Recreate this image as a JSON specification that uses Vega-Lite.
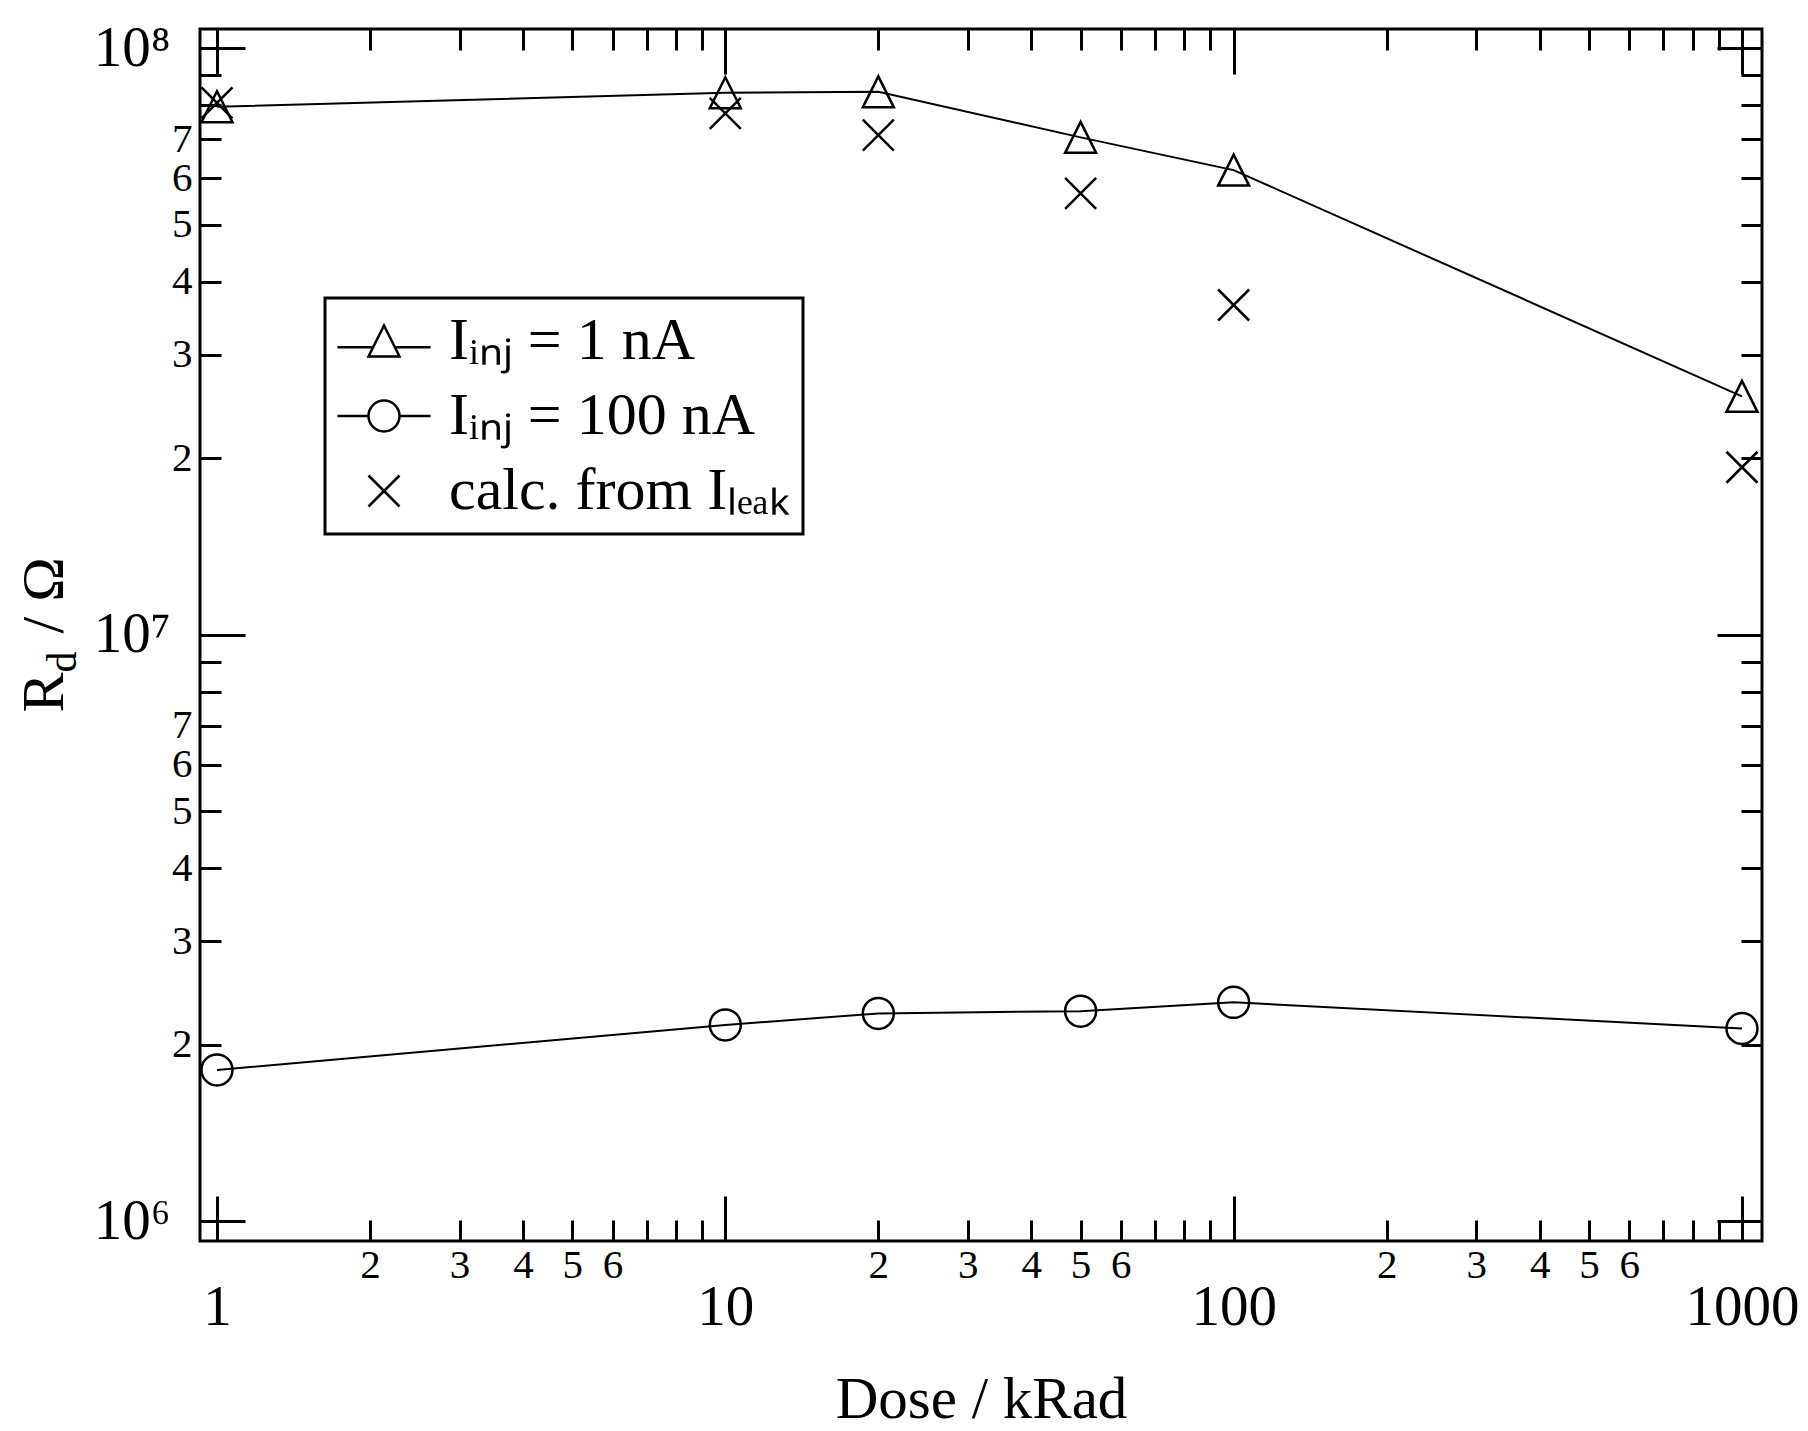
{
  "$schema": "https://vega.github.io/schema/vega-lite/v6.json",
  "width": 1562,
  "height": 1212,
  "autosize": {"type": "none"},
  "padding": {"left": 200, "top": 29, "right": 46, "bottom": 190},
  "background": "white",
  "config": {
    "view": {"stroke": "black", "strokeWidth": 3},
    "axis": {"grid": false, "domain": false, "labelFont": "Liberation Serif", "titleFont": "Liberation Serif", "labelColor": "black", "titleColor": "black", "tickColor": "black", "tickWidth": 3, "labelOverlap": false, "labelFlush": false},
    "legend": {"labelFont": "Liberation Serif", "strokeWidth": 3}
  },
  "data": {
    "values": [
      {"dose": 1, "R": 79500000, "series": "1 nA"},
      {"dose": 10, "R": 84000000, "series": "1 nA"},
      {"dose": 20, "R": 84300000, "series": "1 nA"},
      {"dose": 50, "R": 70500000, "series": "1 nA"},
      {"dose": 100, "R": 62000000, "series": "1 nA"},
      {"dose": 1000, "R": 25500000, "series": "1 nA"},
      {"dose": 1, "R": 1810000, "series": "100 nA"},
      {"dose": 10, "R": 2160000, "series": "100 nA"},
      {"dose": 20, "R": 2260000, "series": "100 nA"},
      {"dose": 50, "R": 2280000, "series": "100 nA"},
      {"dose": 100, "R": 2360000, "series": "100 nA"},
      {"dose": 1000, "R": 2130000, "series": "100 nA"},
      {"dose": 1, "R": 80700000, "series": "leak"},
      {"dose": 10, "R": 77500000, "series": "leak"},
      {"dose": 20, "R": 71100000, "series": "leak"},
      {"dose": 50, "R": 56600000, "series": "leak"},
      {"dose": 100, "R": 36500000, "series": "leak"},
      {"dose": 1000, "R": 19300000, "series": "leak"}
    ]
  },
  "resolve": {
    "axis": {"x": "independent", "y": "independent"},
    "scale": {"shape": "independent"},
    "legend": {"shape": "independent"}
  },
  "layer": [
    {
      "transform": [{"filter": "datum.series == '1 nA'"}],
      "mark": {"type": "line", "color": "black", "strokeWidth": 2},
      "encoding": {
        "x": {
          "field": "dose", "type": "quantitative",
          "scale": {"type": "log", "domain": [0.926, 1095], "nice": false, "zero": false},
          "axis": {
            "orient": "bottom",
            "values": [1, 10, 100, 1000],
            "labelExpr": "'' + round(datum.value)",
            "tickSize": -45,
            "labelPadding": 83,
            "labelFontSize": 57,
            "labelBaseline": "top",
            "title": "Dose / kRad",
            "titleFontSize": 59,
            "titleFontWeight": "normal",
            "titleBaseline": "alphabetic",
            "titleY": 176
          }
        },
        "y": {
          "field": "R", "type": "quantitative",
          "scale": {"type": "log", "domain": [924500, 107900000], "nice": false, "zero": false},
          "axis": {
            "orient": "left",
            "values": [1000000, 10000000, 100000000],
            "labelExpr": "'10' + ['⁰','¹','²','³','⁴','⁵','⁶','⁷','⁸','⁹'][round(log(datum.value)/LN10)]",
            "tickSize": -45,
            "labelPadding": 75,
            "labelFontSize": 57,
            "labelAlign": "right",
            "labelBaseline": "middle",
            "title": "R",
            "titleFontSize": 60,
            "titleFontWeight": "normal",
            "titleAngle": -90,
            "titleAlign": "left",
            "titleBaseline": "alphabetic",
            "titleX": -138,
            "titleY": 683
          }
        }
      }
    },
    {
      "transform": [{"filter": "datum.series == '100 nA'"}],
      "mark": {"type": "line", "color": "black", "strokeWidth": 2},
      "encoding": {
        "x": {
          "field": "dose", "type": "quantitative",
          "axis": {
            "orient": "bottom",
            "values": [2,3,4,5,6,20,30,40,50,60,200,300,400,500,600],
            "labelExpr": "'' + round(datum.value / pow(10, floor(log(datum.value)/LN10 + 1e-6)))",
            "tickSize": -21,
            "labelPadding": 25,
            "labelFontSize": 41,
            "labelBaseline": "top",
            "title": null
          }
        },
        "y": {
          "field": "R", "type": "quantitative",
          "axis": {
            "orient": "left",
            "values": [2000000,3000000,4000000,5000000,6000000,7000000,20000000,30000000,40000000,50000000,60000000,70000000],
            "labelExpr": "'' + round(datum.value / pow(10, floor(log(datum.value)/LN10 + 1e-6)))",
            "tickSize": -21,
            "labelPadding": 29,
            "labelFontSize": 41,
            "labelAlign": "right",
            "labelBaseline": "middle",
            "title": "d", "titleFontSize": 42, "titleFontWeight": "normal",
            "titleAngle": -90, "titleAlign": "left", "titleBaseline": "alphabetic",
            "titleX": -125, "titleY": 643
          }
        }
      }
    },
    {
      "transform": [{"filter": "datum.series != 'leak'"}],
      "mark": {"type": "point", "filled": false, "stroke": "black", "strokeWidth": 2.5, "size": 961, "opacity": 1},
      "encoding": {
        "x": {
          "field": "dose", "type": "quantitative",
          "axis": {
            "orient": "top", "labels": false, "title": null,
            "values": [1,2,3,4,5,6,7,8,9,10,20,30,40,50,60,70,80,90,100,200,300,400,500,600,700,800,900,1000],
            "tickSize": {"condition": {"test": "abs(log(datum.value)/LN10 - round(log(datum.value)/LN10)) < 0.001", "value": -45}, "value": -21}
          }
        },
        "y": {
          "field": "R", "type": "quantitative",
          "axis": {
            "orient": "right", "labels": false, "title": null,
            "values": [1000000,2000000,3000000,4000000,5000000,6000000,7000000,8000000,9000000,10000000,20000000,30000000,40000000,50000000,60000000,70000000,80000000,90000000,100000000],
            "tickSize": {"condition": {"test": "abs(log(datum.value)/LN10 - round(log(datum.value)/LN10)) < 0.001", "value": -45}, "value": -21}
          }
        },
        "shape": {
          "field": "series", "type": "nominal",
          "scale": {"domain": ["1 nA", "100 nA"], "range": ["M0,-1L1,1L-1,1Z", "circle"]},
          "legend": null
        }
      }
    },
    {
      "transform": [{"filter": "datum.series == 'leak'"}],
      "mark": {"type": "point", "filled": false, "stroke": "black", "strokeWidth": 2.5, "size": 961, "opacity": 1, "shape": "M-1,-1L1,1M1,-1L-1,1"},
      "encoding": {
        "x": {
          "field": "dose", "type": "quantitative",
          "axis": {
            "orient": "bottom",
            "values": [7,8,9,70,80,90,700,800,900],
            "labels": false,
            "tickSize": -21,
            "title": null
          }
        },
        "y": {
          "field": "R", "type": "quantitative",
          "axis": {
            "orient": "left",
            "values": [8000000, 9000000, 80000000, 90000000],
            "labels": false,
            "tickSize": -21,
            "title": "/ Ω", "titleFontSize": 60, "titleFontWeight": "normal",
            "titleAngle": -90, "titleAlign": "left", "titleBaseline": "alphabetic",
            "titleX": -138, "titleY": 604
          }
        }
      }
    },
    {
      "mark": {"type": "point", "filled": false, "stroke": "black", "strokeWidth": 2.5, "size": 961, "opacity": 0},
      "encoding": {
        "x": {"field": "dose", "type": "quantitative", "axis": null},
        "y": {"field": "R", "type": "quantitative", "axis": null},
        "shape": {
          "field": "series", "type": "nominal",
          "scale": {
            "domain": ["1 nA", "100 nA", "leak"],
            "range": [
              "M-3,0.4L-0.7,0.4M0.7,0.4L3,0.4M0,-1L1,1L-1,1Z",
              "M-3,0L-1,0M1,0L3,0M1,0A1,1,0,1,1,-1,0A1,1,0,1,1,1,0Z",
              "M-1,-1L1,1M1,-1L-1,1"
            ]
          },
          "legend": {
            "title": null,
            "orient": "none",
            "legendX": 125,
            "legendY": 269,
            "padding": 13,
            "symbolSize": 961,
            "symbolOpacity": 1,
            "symbolStrokeColor": "black",
            "symbolFillColor": "transparent",
            "symbolStrokeWidth": 2.5,
            "symbolOffset": 16,
            "labelOffset": 35,
            "labelFontSize": 60,
            "labelColor": "black",
            "rowPadding": 15,
            "labelLimit": 0,
            "strokeColor": "black",
            "labelExpr": "datum.value == '1 nA' ? 'Iᵢₙⱼ = 1 nA' : datum.value == '100 nA' ? 'Iᵢₙⱼ = 100 nA' : 'calc. from Iₗₑₐₖ'"
          }
        }
      }
    }
  ]
}
